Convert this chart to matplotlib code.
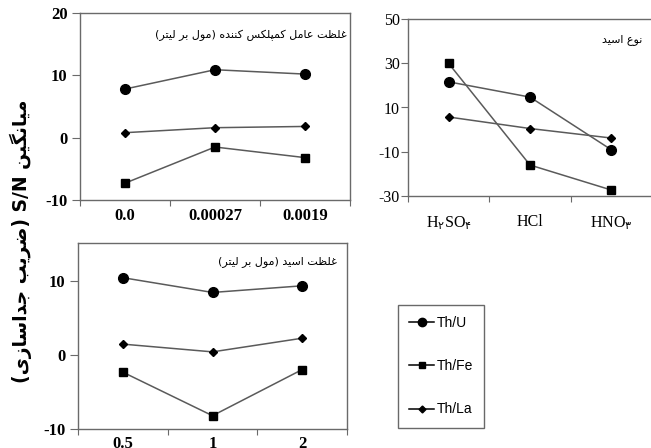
import matplotlib
matplotlib.use('Agg')
import matplotlib.pyplot as plt
from matplotlib.lines import Line2D

# data
complex_conc = ['0.0', '0.00027', '0.0019']
acid_type = ['H$_{۲}$SO$_{۴}$', 'HCl', 'HNO$_{۳}$']
acid_conc = ['0.5', '1', '2']
series = ['Th/U', 'Th/Fe', 'Th/La']

th_u_complex = [7.8, 10.9, 10.2]
th_fe_complex = [-7.3, -1.5, -3.2]
th_la_complex = [0.8, 1.6, 1.8]

th_u_type = [21.6, 14.7, -9.1]
th_fe_type = [29.9, -16.0, -27.3]
th_la_type = [5.7, 0.5, -3.8]

th_u_acid = [10.5, 8.5, 9.4]
th_fe_acid = [-2.3, -8.2, -1.95]
th_la_acid = [1.5, 0.45, 2.3]

title_complex = 'غلظت عامل کمپلکس کننده (مول بر لیتر)'
title_type = 'نوع اسید'
title_acid = 'غلظت اسید (مول بر لیتر)'
ylabel = 'میانگین S/N (ضریب جداسازی)'

# minimal persian shaping (matplotlib has no bidi / joining)
FORMS = {
    'ا': ('\uFE8D', '\uFE8E', None, None),
    'ب': ('\uFE8F', '\uFE90', '\uFE91', '\uFE92'),
    'پ': ('\uFB56', '\uFB57', '\uFB58', '\uFB59'),
    'ت': ('\uFE95', '\uFE96', '\uFE97', '\uFE98'),
    'ج': ('\uFE9D', '\uFE9E', '\uFE9F', '\uFEA0'),
    'د': ('\uFEA9', '\uFEAA', None, None),
    'ر': ('\uFEAD', '\uFEAE', None, None),
    'ز': ('\uFEAF', '\uFEB0', None, None),
    'س': ('\uFEB1', '\uFEB2', '\uFEB3', '\uFEB4'),
    'ض': ('\uFEBD', '\uFEBE', '\uFEBF', '\uFEC0'),
    'ظ': ('\uFEC5', '\uFEC6', '\uFEC7', '\uFEC8'),
    'ع': ('\uFEC9', '\uFECA', '\uFECB', '\uFECC'),
    'غ': ('\uFECD', '\uFECE', '\uFECF', '\uFED0'),
    'ک': ('\uFB8E', '\uFB8F', '\uFB90', '\uFB91'),
    'گ': ('\uFB92', '\uFB93', '\uFB94', '\uFB95'),
    'ل': ('\uFEDD', '\uFEDE', '\uFEDF', '\uFEE0'),
    'م': ('\uFEE1', '\uFEE2', '\uFEE3', '\uFEE4'),
    'ن': ('\uFEE5', '\uFEE6', '\uFEE7', '\uFEE8'),
    'ه': ('\uFEE9', '\uFEEA', '\uFEEB', '\uFEEC'),
    'و': ('\uFEED', '\uFEEE', None, None),
    'ی': ('\uFBFC', '\uFBFD', '\uFBFE', '\uFBFF'),
}
MIRROR = {'(': ')', ')': '('}


def shape(s):
    out = []
    for i, c in enumerate(s):
        if c not in FORMS:
            out.append(c)
            continue
        prev = s[i - 1] if i > 0 else ''
        nxt = s[i + 1] if i + 1 < len(s) else ''
        pj = prev in FORMS and FORMS[prev][2] is not None
        nj = nxt in FORMS and FORMS[c][2] is not None
        iso, fin, ini, med = FORMS[c]
        if pj and nj:
            out.append(med)
        elif pj:
            out.append(fin)
        elif nj:
            out.append(ini)
        else:
            out.append(iso)
    return ''.join(out)


def visual(s):
    s = shape(s)
    runs = []
    for c in s:
        ltr = c.isascii() and (c.isalnum() or c in '/.')
        if runs and runs[-1][0] == ltr:
            runs[-1][1].append(c)
        else:
            runs.append([ltr, [c]])
    out = ''
    for ltr, chars in reversed(runs):
        if ltr:
            out += ''.join(chars)
        else:
            out += ''.join(MIRROR.get(c, c) for c in reversed(chars))
    return out


plt.rcParams['font.family'] = ['Liberation Serif', 'DejaVu Sans']
plt.rcParams['mathtext.fontset'] = 'custom'
plt.rcParams['mathtext.rm'] = 'DejaVu Sans'
plt.rcParams['axes.unicode_minus'] = False

LINE = '#5a5a5a'
SPINE = '#6a6a6a'
markers = {'Th/U': ('o', 7), 'Th/Fe': ('s', 5.5), 'Th/La': ('D', 4.5)}

fig = plt.figure(figsize=(6.51, 4.48), dpi=100)
W, H = 651, 448


def box(l, t, r, b):
    return [l / W, 1 - b / H, (r - l) / W, (b - t) / H]


def draw(ax, cats, vals, ylim, yticks, bold, fs, title, tx, ty,
         ylen, ypad, xpad):
    x = [0.5, 1.5, 2.5]
    for name, v in zip(series, vals):
        m, ms = markers[name]
        ax.plot(x, v, color=LINE, lw=1.1, marker=m, ms=ms,
                mfc='black', mec='black', label=name)
    ax.set_xlim(0, 3)
    ax.set_ylim(*ylim)
    ax.set_yticks(yticks)
    ax.set_xticks([0, 1, 2, 3])
    ax.set_xticklabels([])
    ax.set_xticks(x, minor=True)
    ax.set_xticklabels(cats, minor=True)
    wt = 'bold' if bold else 'normal'
    for lab in ax.get_yticklabels() + ax.get_xticklabels(minor=True):
        lab.set_fontsize(fs)
        lab.set_fontweight(wt)
    ax.tick_params(axis='x', which='major', direction='out', length=4,
                   color=SPINE)
    ax.tick_params(axis='x', which='minor', length=0, pad=xpad)
    ax.tick_params(axis='y', direction='out', length=ylen, color=SPINE,
                   pad=ypad)
    for sp in ax.spines.values():
        sp.set_color(SPINE)
        sp.set_linewidth(1.0)
    ax.text(tx, ty, visual(title), transform=ax.transAxes,
            ha='right', va='center', fontsize=8, family=['DejaVu Sans'])


ax1 = fig.add_axes(box(80, 13, 350, 200))
draw(ax1, complex_conc, [th_u_complex, th_fe_complex, th_la_complex],
     (-10, 20), [-10, 0, 10, 20], True, 12, title_complex, 0.988, 0.882,
     6, 3, 6)

ax2 = fig.add_axes(box(408, 19, 652, 196))
draw(ax2, acid_type, [th_u_type, th_fe_type, th_la_type],
     (-30, 50), [-30, -10, 10, 30, 50], False, 11.5, title_type, 0.962,
     0.886, 5, 1, 13)

ax3 = fig.add_axes(box(78, 243, 347, 429))
draw(ax3, acid_conc, [th_u_acid, th_fe_acid, th_la_acid],
     (-10, 15.2), [-10, 0, 10], True, 12, title_acid, 0.963, 0.898,
     6, 3, 5)

fig.text(0.032, 0.461, visual(ylabel), rotation=90, ha='center', va='center',
         fontsize=13.5, fontweight='bold', family=['DejaVu Sans'])

handles = [Line2D([], [], color='black', lw=1.1, marker=markers[n][0],
                  ms=markers[n][1] - 1, mfc='black', mec='black')
           for n in series]
leg = fig.legend(handles, series, loc='upper left',
                 bbox_to_anchor=(398 / W, 1 - 305 / H), borderaxespad=0,
                 frameon=True, fancybox=False, edgecolor='#444444',
                 handlelength=1.8, handletextpad=0.2, labelspacing=2.1,
                 borderpad=0.8, prop={'family': 'Liberation Sans', 'size': 10})
leg.get_frame().set_linewidth(1.0)

fig.savefig('out.png', dpi=100)
